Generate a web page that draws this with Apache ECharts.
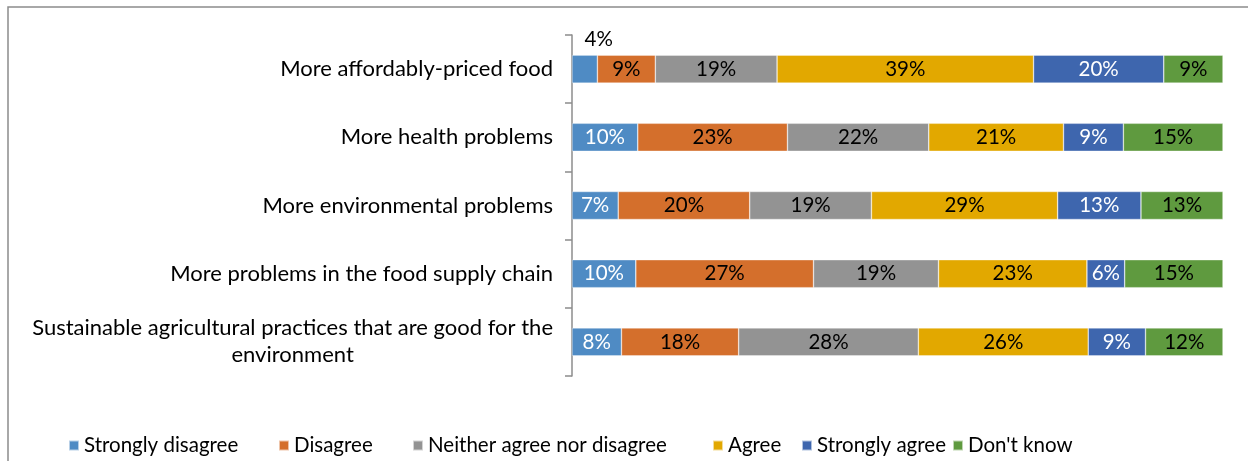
<!DOCTYPE html>
<html><head><meta charset="utf-8">
<script src="https://cdn.jsdelivr.net/npm/echarts@6/dist/echarts.min.js"></script>
<style>html,body{margin:0;padding:0;background:#fff}#c{width:1248px;height:461px}</style>
</head><body><div id="c"></div>
<script>
const categories = [
  'More affordably-priced food',
  'More health problems',
  'More environmental problems',
  'More problems in the food supply chain',
  'Sustainable agricultural practices that are good for the\nenvironment'
];
const seriesNames = ['Strongly disagree', 'Disagree', 'Neither agree nor disagree', 'Agree', 'Strongly agree', "Don't know"];
const stronglyDisagree = [3.9, 10.1, 7.1, 9.8, 7.6];
const disagree = [8.9, 23.0, 20.2, 27.3, 18.0];
const neither = [18.7, 21.7, 18.7, 19.2, 27.6];
const agree = [39.4, 20.7, 28.6, 22.8, 26.1];
const stronglyAgree = [20.0, 9.2, 12.8, 5.8, 8.8];
const dontKnow = [9.1, 15.3, 12.6, 15.1, 11.9];

const FONT = 'Lato';
const FS_CAT = 22;
const FS_LBL = 20.5;
const FS_LEG = 20.5;
const colors = ['#4F8BC4', '#D46F2C', '#939393', '#E2A800', '#3E66AE', '#5F9A3F'];
const labelColors = ['#fff', '#000', '#000', '#000', '#fff', '#000'];
const values = [stronglyDisagree, disagree, neither, agree, stronglyAgree, dontKnow];
const legendLefts = [63, 273, 407, 707, 796, 947];

const series = seriesNames.map((name, i) => ({
  name,
  type: 'bar',
  stack: 'total',
  barWidth: 28,
  itemStyle: { color: colors[i], borderColor: 'rgba(255,255,255,0.6)', borderWidth: 0.6 },
  label: {
    show: true,
    position: 'inside',
    color: labelColors[i],
    fontFamily: FONT,
    fontSize: FS_LBL,
    formatter: p => Math.round(p.value) + '%'
  },
  data: values[i].map(v => v < 5
    ? { value: v, label: { position: 'top', color: '#000', distance: 5, offset: [14, 0] } }
    : v)
}));

const chart = echarts.init(document.getElementById('c'), null, { renderer: 'canvas' });
chart.setOption({
  animation: false,
  backgroundColor: '#fff',
  color: colors,
  graphic: [{
    type: 'rect', shape: { x: 8, y: 7, width: 1400, height: 600 },
    style: { fill: 'none', stroke: '#8c8c8c', lineWidth: 1.5 }, silent: true, z: -10
  }],
  legend: seriesNames.map((name, i) => ({
    data: [name], left: legendLefts[i], top: 430,
    icon: 'rect', itemWidth: 10, itemHeight: 10,
    textStyle: { fontFamily: FONT, fontSize: FS_LEG, color: '#000' },
    selectedMode: false
  })),
  grid: { left: 572, right: 25, top: 35, bottom: 85, containLabel: false },
  xAxis: { type: 'value', min: 0, max: 100, show: false },
  yAxis: {
    type: 'category', inverse: true, data: categories,
    axisLine: { show: true, lineStyle: { color: '#8c8c8c', width: 1.5 } },
    axisTick: { show: true, alignWithLabel: false, length: 7, lineStyle: { color: '#8c8c8c', width: 1.5 } },
    axisLabel: {
      margin: 19, color: '#000', fontFamily: FONT, fontSize: FS_CAT,
      formatter: v => v.split('\n').map(s => '{c|' + s + '}').join('\n'),
      rich: { c: { align: 'center', fontFamily: FONT, fontSize: FS_CAT, color: '#000', lineHeight: 27 } }
    }
  },
  series
});
</script></body></html>
